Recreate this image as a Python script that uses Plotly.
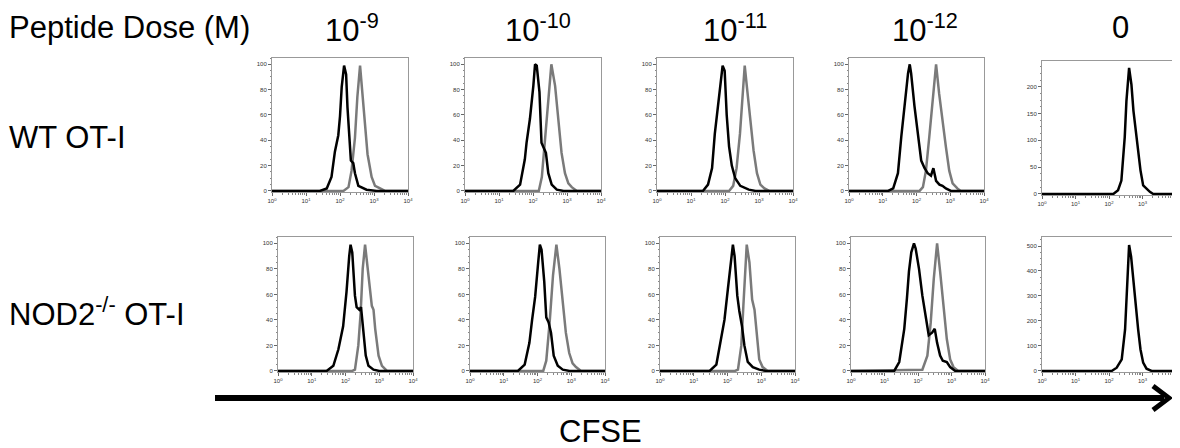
import numpy as np
import plotly.graph_objects as go

# column / row labels
doses = ["10<sup>-9</sup>", "10<sup>-10</sup>", "10<sup>-11</sup>", "10<sup>-12</sup>", "0"]
strains = ["WT OT-I", "NOD2<sup>-/-</sup> OT-I"]

# histograms: x = log10(CFSE), y = counts
# black = peptide stimulated, gray = unstimulated control
wt_9_x = [0, 1.41, 1.61, 1.75, 1.85, 1.95, 2.0, 2.05, 2.12, 2.18, 2.22, 2.27, 2.32, 2.39, 2.44, 2.54, 2.78, 3.08, 4]
wt_9_y = [0, 0, 2, 11, 31, 44, 59, 82, 99, 92, 66, 40, 24, 22, 14, 4, 1, 0, 0]
wt_9_ref_x = [0, 2.1, 2.25, 2.34, 2.44, 2.51, 2.59, 2.66, 2.74, 2.81, 2.93, 3.03, 3.18, 3.32, 4]
wt_9_ref_y = [0, 0, 3, 16, 42, 74, 99, 78, 55, 29, 11, 4, 2, 0, 0]

wt_10_x = [0, 1.42, 1.62, 1.76, 1.81, 1.91, 2.01, 2.06, 2.11, 2.19, 2.25, 2.32, 2.38, 2.45, 2.55, 2.7, 2.9, 4]
wt_10_y = [0, 0, 5, 25, 38, 57, 83, 100, 99, 78, 38, 34, 30, 14, 5, 1, 0, 0]
wt_10_ref_x = [0, 2.17, 2.26, 2.36, 2.46, 2.54, 2.65, 2.75, 2.84, 2.94, 3.04, 3.14, 3.29, 4]
wt_10_ref_y = [0, 0, 11, 43, 78, 100, 83, 57, 30, 14, 6, 3, 0, 0]

wt_11_x = [0, 1.35, 1.5, 1.62, 1.7, 1.76, 1.84, 1.93, 1.99, 2.05, 2.12, 2.2, 2.3, 2.45, 2.7, 2.9, 4]
wt_11_y = [0, 0, 5, 18, 45, 58, 80, 99, 95, 60, 35, 20, 10, 4, 1, 0, 0]
wt_11_ref_x = [0, 2.12, 2.24, 2.34, 2.44, 2.52, 2.58, 2.66, 2.75, 2.84, 2.94, 3.04, 3.16, 3.3, 4]
wt_11_ref_y = [0, 0, 4, 18, 45, 78, 99, 78, 55, 32, 14, 5, 2, 0, 0]

wt_12_x = [0, 1.16, 1.31, 1.45, 1.55, 1.65, 1.75, 1.8, 1.84, 1.94, 2.04, 2.14, 2.24, 2.33, 2.43, 2.5, 2.58, 2.68, 2.77, 2.87, 3.02, 4]
wt_12_y = [0, 0, 2, 14, 43, 69, 93, 100, 93, 67, 43, 24, 18, 14, 12, 18, 8, 5, 4, 2, 0, 0]
wt_12_ref_x = [0, 2.09, 2.19, 2.28, 2.38, 2.48, 2.58, 2.67, 2.77, 2.87, 2.97, 3.07, 3.21, 3.31, 4]
wt_12_ref_y = [0, 0, 3, 16, 43, 69, 100, 77, 54, 35, 16, 6, 2, 0, 0]

wt_0_x = [0, 2.13, 2.27, 2.37, 2.47, 2.52, 2.6, 2.67, 2.73, 2.8, 2.87, 2.94, 3.02, 3.12, 3.22, 3.32, 4]
wt_0_y = [0, 0, 7, 25, 106, 173, 235, 204, 155, 118, 87, 44, 16, 10, 4, 0, 0]

nod_9_x = [0, 1.44, 1.64, 1.79, 1.93, 2.03, 2.11, 2.15, 2.2, 2.28, 2.33, 2.41, 2.46, 2.53, 2.6, 2.68, 2.83, 3.0, 4]
nod_9_y = [0, 0, 4, 17, 35, 62, 90, 99, 93, 59, 50, 48, 50, 33, 12, 4, 1, 0, 0]
nod_9_ref_x = [0, 2.2, 2.28, 2.38, 2.45, 2.51, 2.58, 2.68, 2.78, 2.83, 2.88, 2.98, 3.08, 3.23, 4]
nod_9_ref_y = [0, 0, 1, 20, 46, 80, 99, 75, 51, 48, 33, 12, 4, 0, 0]

nod_10_x = [0, 1.42, 1.62, 1.76, 1.84, 1.93, 2.02, 2.07, 2.12, 2.2, 2.26, 2.33, 2.4, 2.48, 2.6, 2.75, 2.95, 4]
nod_10_y = [0, 0, 5, 22, 40, 58, 85, 99, 95, 70, 42, 38, 30, 12, 4, 1, 0, 0]
nod_10_ref_x = [0, 2.17, 2.26, 2.36, 2.46, 2.56, 2.65, 2.75, 2.84, 2.94, 3.04, 3.14, 3.29, 4]
nod_10_ref_y = [0, 0, 8, 38, 75, 99, 80, 55, 30, 14, 6, 3, 0, 0]

nod_11_x = [0, 1.47, 1.67, 1.81, 1.88, 1.91, 2.01, 2.11, 2.16, 2.21, 2.29, 2.35, 2.43, 2.5, 2.6, 2.75, 2.94, 3.14, 4]
nod_11_y = [0, 0, 5, 25, 38, 40, 64, 90, 99, 90, 59, 47, 35, 20, 7, 3, 1, 0, 0]
nod_11_ref_x = [0, 2.22, 2.31, 2.41, 2.47, 2.53, 2.57, 2.65, 2.73, 2.8, 2.87, 2.94, 3.04, 3.19, 4]
nod_11_ref_y = [0, 0, 1, 20, 51, 85, 99, 85, 56, 48, 25, 9, 3, 0, 0]

nod_12_x = [0, 1.29, 1.44, 1.59, 1.67, 1.73, 1.8, 1.88, 1.93, 2.03, 2.13, 2.23, 2.32, 2.42, 2.5, 2.57, 2.66, 2.74, 2.86, 2.96, 3.11, 4]
nod_12_y = [0, 0, 7, 33, 57, 78, 93, 100, 96, 80, 59, 43, 28, 30, 33, 22, 12, 8, 7, 3, 0, 0]
nod_12_ref_x = [0, 2.13, 2.28, 2.38, 2.47, 2.57, 2.66, 2.76, 2.86, 2.96, 3.06, 3.2, 4]
nod_12_ref_y = [0, 1, 12, 38, 72, 100, 78, 51, 25, 9, 3, 0, 0]

nod_0_x = [0, 2.08, 2.23, 2.38, 2.48, 2.55, 2.6, 2.66, 2.73, 2.8, 2.87, 2.94, 3.02, 3.12, 3.27, 4]
nod_0_y = [0, 0, 13, 46, 166, 365, 504, 457, 351, 252, 166, 86, 33, 9, 0, 0]

panels = [
    (wt_9_x, wt_9_y, wt_9_ref_x, wt_9_ref_y),
    (wt_10_x, wt_10_y, wt_10_ref_x, wt_10_ref_y),
    (wt_11_x, wt_11_y, wt_11_ref_x, wt_11_ref_y),
    (wt_12_x, wt_12_y, wt_12_ref_x, wt_12_ref_y),
    (wt_0_x, wt_0_y, None, None),
    (nod_9_x, nod_9_y, nod_9_ref_x, nod_9_ref_y),
    (nod_10_x, nod_10_y, nod_10_ref_x, nod_10_ref_y),
    (nod_11_x, nod_11_y, nod_11_ref_x, nod_11_ref_y),
    (nod_12_x, nod_12_y, nod_12_ref_x, nod_12_ref_y),
    (nod_0_x, nod_0_y, None, None),
]

# the page body has an 8px margin, so the figure is drawn 8px smaller and
# positions below are given in window pixels
OFF = 8
W, H = 1180 - OFF, 448 - OFF
FONT = "Arial, Liberation Sans, sans-serif"


def px(x):
    return (x - OFF) / W


def py(y):
    return 1 - (y - OFF) / H


# panel boxes in window pixels (left, right, top, bottom)
boxes = [
    (272, 408, 58, 192), (465, 601, 58, 192), (657, 793, 58, 192), (849, 984, 58, 192), (1042, 1176, 61, 195),
    (278, 413, 237, 372), (470, 605, 237, 372), (660, 795, 237, 372), (851, 985, 237, 372), (1042, 1176, 237, 372),
]
y_tops = [105, 105, 105, 105, 248, 105, 105, 105, 105, 536]
y_dticks = [20, 20, 20, 20, 50, 20, 20, 20, 20, 100]

minor_x = [k * 10 ** d for d in range(4) for k in range(2, 10)]

fig = go.Figure()
layout = {}
for i, (bx, by, gx, gy) in enumerate(panels):
    n = i + 1
    xa, ya = f"x{n}", f"y{n}"
    if gx is not None:
        fig.add_trace(go.Scatter(x=np.power(10.0, gx), y=gy, mode="lines",
                                 line=dict(color="#7a7a7a", width=2.5),
                                 xaxis=xa, yaxis=ya, showlegend=False, hoverinfo="skip"))
    fig.add_trace(go.Scatter(x=np.power(10.0, bx), y=by, mode="lines",
                             line=dict(color="black", width=2.5),
                             xaxis=xa, yaxis=ya, showlegend=False, hoverinfo="skip"))

    l, r, t, b = boxes[i]
    top = y_tops[i]
    layout[f"xaxis{n}"] = dict(
        type="log", range=[0, 4], domain=[px(l), px(r)], anchor=ya, automargin=False,
        tickvals=[1, 10, 100, 1000, 10000],
        ticktext=[f"10<sup>{k}</sup>" for k in range(5)],
        ticks="outside", ticklen=3, tickcolor="#666", tickfont=dict(size=6, color="#333"),
        showline=True, linecolor="#999", mirror=True, showgrid=False, zeroline=False,
        minor=dict(ticks="outside", ticklen=1.5, tickcolor="#888", tickvals=minor_x),
    )
    layout[f"yaxis{n}"] = dict(
        range=[-top * 0.008, top], domain=[py(b), py(t)], anchor=xa, automargin=False,
        dtick=y_dticks[i], tick0=0,
        ticks="outside", ticklen=3, tickcolor="#666", tickfont=dict(size=6, color="#333"),
        showline=True, linecolor="#999", mirror=True, showgrid=False, zeroline=False,
        minor=dict(ticks="outside", ticklen=1.5, tickcolor="#888", dtick=y_dticks[i] / 4),
    )

annotations = [dict(text="Peptide Dose (M)", x=px(7), y=py(28), xanchor="left", yanchor="middle")]
header_x = [352, 538, 735, 925, 1120]
for hx, d in zip(header_x, doses):
    annotations.append(dict(text=d, x=px(hx), y=py(28), xanchor="center", yanchor="middle"))
for sy, s in zip([138, 312], strains):
    annotations.append(dict(text=s, x=px(7), y=py(sy), xanchor="left", yanchor="middle"))
annotations.append(dict(text="CFSE", x=px(600), y=py(431), xanchor="center", yanchor="middle"))
for a in annotations:
    a.update(xref="paper", yref="paper", showarrow=False, font=dict(size=31, color="black"))

# CFSE arrow under the panels
shapes = [
    dict(type="line", xref="paper", yref="paper", x0=px(215), x1=px(1164), y0=py(398), y1=py(398),
         line=dict(color="black", width=6)),
    dict(type="path", xref="paper", yref="paper",
         path=f"M {px(1153)},{py(386)} L {px(1169)},{py(398)} L {px(1153)},{py(410)}",
         line=dict(color="black", width=5)),
]

fig.update_layout(
    width=W, height=H, margin=dict(l=0, r=0, t=0, b=0),
    paper_bgcolor="white", plot_bgcolor="white",
    font=dict(family=FONT, color="black"),
    annotations=annotations, shapes=shapes, **layout,
)

fig.write_html("out.html")
